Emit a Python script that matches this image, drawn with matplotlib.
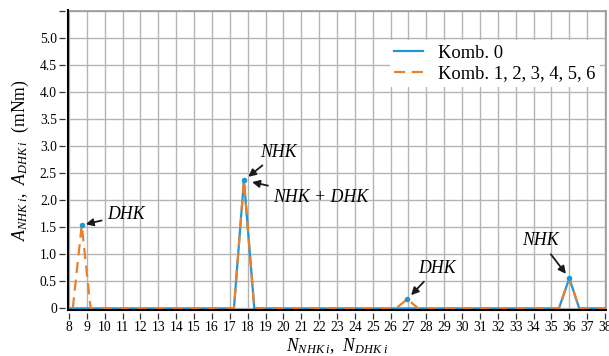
import matplotlib
matplotlib.use('Agg')
import matplotlib.pyplot as plt

#-------------------------------------------------------------------------
# Data
#-------------------------------------------------------------------------

x_komb0 = [7.94, 17.23, 17.79, 18.37, 35.42, 36.00, 36.56, 38.06]
y_komb0 = [0.0,  0.0,   2.37,  0.0,   0.0,   0.557, 0.0,   0.0]

x_komb16 = [8.21, 8.71, 9.21, 17.23, 17.79, 18.37, 26.30, 26.93, 27.55,
            35.42, 36.00, 36.56, 38.06]
y_komb16 = [0.0,  1.54, 0.0,  0.0,   2.37,  0.0,   0.0,   0.17,  0.0,
            0.0,   0.557, 0.0,   0.0]

peak_x = [8.71, 17.79, 26.93, 36.00]
peak_y = [1.54, 2.37,  0.17,  0.557]

x_ticks = list(range(8, 39))
y_ticks = [0.0, 0.5, 1.0, 1.5, 2.0, 2.5, 3.0, 3.5, 4.0, 4.5, 5.0, 5.5]
y_tick_labels = ['0', '0.5', '1.0', '1.5', '2.0', '2.5', '3.0', '3.5',
                 '4.0', '4.5', '5.0', '']

legend_labels = ['Komb. 0', 'Komb. 1, 2, 3, 4, 5, 6']

# (text, text x, text y, point index, alignment, shrink)
notes = [
    ('DHK',       10.13, 1.73,  0, 'left',   3),
    ('NHK',       19.73, 2.885, 1, 'center', 4),
    ('NHK + DHK', 19.42, 2.05,  1, 'left',   6),
    ('DHK',       28.57, 0.74,  2, 'center', 4),
    ('NHK',       34.39, 1.25,  3, 'center', 4),
]

#-------------------------------------------------------------------------
# Configure matplotlib
#-------------------------------------------------------------------------

plt.rcParams['font.family']          = 'Liberation Serif'
plt.rcParams['mathtext.fontset']     = 'custom'
plt.rcParams['mathtext.rm']          = 'Liberation Serif'
plt.rcParams['mathtext.it']          = 'Liberation Serif:italic'
plt.rcParams['mathtext.bf']          = 'Liberation Serif:bold'

blue   = '#1d97d9'
orange = '#e8802c'
grid_c = '#b4b4b4'

fig = plt.figure(figsize=(6.09, 3.56), dpi=100)
ax = fig.add_axes([0.1117, 0.1292, 0.9951 - 0.1117, 0.9691 - 0.1292])

ax.plot(x_komb0, y_komb0, color=blue, lw=1.6, label=legend_labels[0],
        solid_joinstyle='miter', zorder=3)
ax.plot(x_komb16, y_komb16, color=orange, lw=1.6, dashes=(5, 3),
        label=legend_labels[1], zorder=4)
ax.plot(peak_x, peak_y, marker='o', linestyle='none', color=blue,
        markersize=4, markeredgecolor='none', zorder=5)

for text, tx, ty, idx, ha, shr in notes:
    ax.annotate(text, xy=(peak_x[idx], peak_y[idx]), xytext=(tx, ty),
                ha=ha, va='center', fontsize=12.8, style='italic',
                arrowprops=dict(arrowstyle='-|>', color='#1a1a1a', lw=1.3,
                                mutation_scale=11, shrinkA=2, shrinkB=shr),
                zorder=6)

ax.set_xlim(7.944, 38.056)
ax.set_ylim(-0.03, 5.5)
ax.set_xticks(x_ticks)
ax.set_yticks(y_ticks)
ax.set_yticklabels(y_tick_labels)
ax.tick_params(labelsize=9.8, length=4, width=0.9, color='#333333',
               pad=2)
ax.grid(True, color=grid_c, lw=1.0)
ax.set_axisbelow(True)

# ticks sit slightly away from the black axis lines
for side in ['left', 'bottom']:
    ax.spines[side].set_position(('outward', 2))
    ax.spines[side].set_visible(False)
for side in ['top', 'right']:
    ax.spines[side].set_color('#999999')
    ax.spines[side].set_linewidth(1.2)
ax.plot([0, 0], [0, 1.003], transform=ax.transAxes, color='k', lw=1.5,
        clip_on=False, zorder=7)
ax.plot([0, 1], [0, 0], transform=ax.transAxes, color='k', lw=1.5,
        clip_on=False, zorder=7)

leg = ax.legend(loc='upper right', bbox_to_anchor=(0.988, 0.903),
                borderaxespad=0, fontsize=13.3, handlelength=1.55,
                handletextpad=0.8, labelspacing=0.2, borderpad=0.25,
                frameon=True, fancybox=False, framealpha=1)
leg.get_frame().set_edgecolor('none')
leg.get_frame().set_facecolor('white')

fig.text(20 / 609, 1 - 160 / 356,
         r'$A_{NHK\;i}$,  $A_{DHK\;i}$  (mNm)', rotation=90,
         ha='center', va='center', fontsize=12.7)
fig.text(337 / 609, 1 - 346 / 356,
         r'$N_{NHK\;i}$,  $N_{DHK\;i}$', ha='center', va='center',
         fontsize=12.7)

plt.savefig('out.png', dpi=100)
